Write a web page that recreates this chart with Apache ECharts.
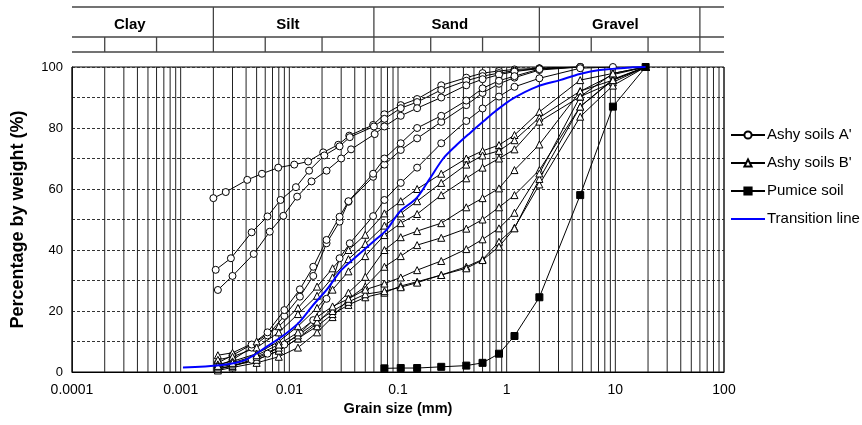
<!DOCTYPE html>
<html><head><meta charset="utf-8">
<script src="https://cdn.jsdelivr.net/npm/echarts@6/dist/echarts.min.js"></script>
<style>html,body{margin:0;padding:0;background:#fff}#c{width:862px;height:425px}</style>
</head><body><div id="c"></div>
<script>
// ---------- data ----------
const xTickLabels = ['0.0001','0.001','0.01','0.1','1','10','100'];
const sieve = [0.075,0.106,0.15,0.25,0.425,0.6,0.85,1.18,2,4.75,9.5,19];

// Ashy soils A' (hydrometer sizes, then sieve part)
const a1Size = [0.002,0.0026,0.0041,0.0056,0.0079,0.0111,0.0149,0.0205,0.0282,0.0356,0.059];
const a1Pct  = [57,59,63,65,67,68,69,72,74.5,77.5,81, 84.5,87.5,89.5,94,96.5,98,98.7,99.2,99.6,100];
const a2Size = [0.0021,0.0029,0.0045,0.0063,0.0083,0.0115,0.0152,0.021,0.029,0.036,0.06];
const a2Pct  = [33.5,37.3,45.8,51,56.4,60.6,66,71,74,77,80.5, 83,86.5,88.5,92.5,95.5,97,98,98.8,99.5,100];
const a3Size = [0.0022,0.003,0.0047,0.0066,0.0088,0.0118,0.016,0.022,0.03,0.037,0.061];
const a3Pct  = [26.9,31.5,38.7,46,51.2,57.5,62.5,66,70,73,78, 80.5,84,86.5,90,94,96,97.5,98.5,99.5,100];
const a4Size = [0.0022,0.003,0.0045,0.0063,0.009,0.0125,0.0166,0.022,0.029,0.035,0.059];
const a4Pct  = [2,4,8,12,18.4,24.7,31.5,42.2,49.3,55.8,64, 68,72.8,76.6,82,87.5,91.5,94.5,96.5,99,100];
const a5Size = [0.0022,0.003,0.0045,0.0063,0.009,0.0125,0.0166,0.022,0.029,0.035,0.059];
const a5Pct  = [3,5.5,9,13,20.3,27.1,34.5,43.3,50.9,56,65, 70,75,80,84,89,93,95.5,97,99.3,100];
const a6Size = [0.0022,0.003,0.0045,0.0063,0.009,0.0125,0.0166,0.022,0.029,0.036,0.059];
const a6Pct  = [1,2,4,6,9,12.7,17,24,37.3,42.2,51.1, 56.4,62,67,75,82.3,86.4,90.3,93.5,96.3,99.6,100];

// Ashy soils B' (hydrometer sizes shared, then sieve part)
const bSize = [0.0022,0.003,0.005,0.008,0.012,0.018,0.025,0.035,0.05];
const b1Pct = [5.5,6.3,10,15,21,28,34,40,45, 52,56,60,65,70,72.5,74.4,77.7,85.3,95.7,97.9,100];
const b2Pct = [4,5,8,13,19,25,31,37,42, 48,52,56,62,68,71,72.5,76,83.4,92.1,95.7,100];
const b3Pct = [2.5,3.5,6,10,15,21,27,33,38, 44.9,48.8,51.8,58,63.5,67,70,73,82.1,90.3,95,100];
const b4Pct = [1,2,4,7,11,16,21,26,31.2, 40,44.2,46.2,48.8,54,57,60.2,66.2,74.6,92,97.5,100];
const b5Pct = [0.5,1.5,3,5,8,13,18,24,28, 34.5,38,41.6,44,47,50,54,58,66.2,87,96,100];
const b6Pct = [1,2,4,7,11,15,19,22,24.5, 26,28.2,29.6,31.8,34.5,36.9,42.7,47.3,61.5,83.7,93.9,100];
const b7Pct = [1.5,2.5,5,8,12,16.5,20,23,25.5, 26.5,27.8,29.3,31.8,34,36.7,41.1,47.1,63.3,87,95.7,100];
const b8Pct = [2,3,5.5,9,13,18,21.5,24,27, 29,31,33.4,36.4,40.3,43.5,47.1,52.2,65.1,90.3,97.9,100];

// Pumice soil (sieve sizes)
const pumicePct = [1.2,1.3,1.3,1.7,2.1,3,6,11.8,24.5,58,87,100];

// Transition line
const transSize = [0.00105,0.0023,0.0039,0.0062,0.0094,0.0125,0.0166,0.022,0.0292,0.0337,0.0591,0.0785,0.104,0.148,0.197,0.261,0.346,0.458,0.608,0.807,1.148,1.88,3.09,4.71,7.2,14.5,19];
const transPct  = [1.5,2.2,3.9,8.3,12.7,16.5,22,26.9,32.9,35.1,42.7,46.6,52.6,57,63.5,70,74.4,78.3,82.1,85.8,89.7,93.5,95.7,97.7,99,99.9,100];

// Header classification
const classNames = ['Clay','Silt','Sand','Gravel'];
const classLabelAt = [0.00034,0.0097,0.30,10];
const classMajor = [0.002,0.06,2,60];
const classMinor = [0.0002,0.0006,0.006,0.02,0.2,0.6,6,20];

// ---------- build ----------
const FONT = '"Liberation Sans", Arial, sans-serif';
const nameA = "Ashy soils A'", nameB = "Ashy soils B'", nameP = 'Pumice soil', nameT = 'Transition line';

function pairs(sizes, pcts){ const xs = sizes.concat(sieve); const out=[]; for(let i=0;i<pcts.length;i++) out.push([xs[i], pcts[i]]); return out; }

const gridVals = [];
for (let k=-4;k<=1;k++) for (let m=1;m<=9;m++) gridVals.push(+(m*Math.pow(10,k)).toPrecision(3));
gridVals.push(100);

const series = [];
series.push({
  type:'custom', xAxisIndex:0, yAxisIndex:0, silent:true, z:1,
  data: gridVals.map(v=>[v,0]), encode:{x:0,y:1},
  renderItem:(p,api)=>{ const v=api.value(0); const a=api.coord([v,0]), b=api.coord([v,100]);
    return {type:'line', shape:{x1:a[0],y1:a[1],x2:b[0],y2:b[1]}, style:{stroke:'#222', lineWidth:1}}; }
});

function lineSeries(name, data, symbol, size, fill){
  return {type:'line', name, data, symbol, symbolSize:size, showSymbol:true, z:3,
    lineStyle:{color:'#000', width:1}, itemStyle:{color:fill, borderColor:'#000', borderWidth:1},
    emphasis:{disabled:true}, animation:false};
}
[[a1Size,a1Pct],[a2Size,a2Pct],[a3Size,a3Pct],[a4Size,a4Pct],[a5Size,a5Pct],[a6Size,a6Pct]].forEach(([s,p])=>{
  series.push(lineSeries(nameA, pairs(s,p), 'circle', 7, '#fff'));
});
[b1Pct,b2Pct,b3Pct,b4Pct,b5Pct,b6Pct,b7Pct,b8Pct].forEach(p=>{
  series.push(lineSeries(nameB, pairs(bSize,p), 'triangle', 7, '#fff'));
});
series.push(lineSeries(nameP, sieve.map((s,i)=>[s,pumicePct[i]]), 'rect', 7, '#000'));
series.push({type:'line', name:nameT, data: transSize.map((s,i)=>[s,transPct[i]]), smooth:0.3, showSymbol:false, symbol:'none', z:4,
  lineStyle:{color:'#0000ff', width:2}, itemStyle:{color:'#0000ff'}, emphasis:{disabled:true}});

// header table
const hdr = [];
hdr.push([0.0001,0,100,0],[0.0001,1,100,1],[0.0001,3,100,3]);
classMajor.forEach(v=>hdr.push([v,0,v,3]));
classMinor.forEach(v=>hdr.push([v,0,v,1]));
series.push({type:'custom', xAxisIndex:1, yAxisIndex:1, silent:true,
  data: hdr, encode:{x:[0,2], y:[1,3]},
  renderItem:(p,api)=>{ const a=api.coord([api.value(0),api.value(1)]), b=api.coord([api.value(2),api.value(3)]);
    return {type:'line', shape:{x1:a[0],y1:a[1],x2:b[0],y2:b[1]}, style:{stroke:'#444', lineWidth:1.3}}; }
});
series.push({type:'custom', xAxisIndex:1, yAxisIndex:1, silent:true,
  data: classNames.map((n,i)=>[classLabelAt[i],1.8]), encode:{x:0,y:1},
  renderItem:(p,api)=>{ const a=api.coord([api.value(0),api.value(1)]);
    return {type:'text', x:a[0], y:a[1], style:{text:classNames[p.dataIndex], fill:'#000', font:'bold 15px '+FONT, align:'center', verticalAlign:'middle'}}; }
});

const option = {
  animation:false,
  textStyle:{fontFamily:FONT},
  grid:[
    {left:72,right:138,top:67,bottom:53, show:true, borderColor:'#000', borderWidth:1, backgroundColor:'transparent'},
    {left:72,right:138,top:7,height:45, show:false}
  ],
  xAxis:[
    {type:'log', logBase:10, min:0.0001, max:100, gridIndex:0,
     name:'Grain size (mm)', nameLocation:'middle', nameGap:29,
     nameTextStyle:{fontSize:14.5, fontWeight:'bold', color:'#000', fontFamily:FONT},
     axisLine:{show:true, lineStyle:{color:'#000', width:1}}, axisTick:{show:false},
     splitLine:{show:false},
     axisLabel:{color:'#000', fontSize:14, fontFamily:FONT, margin:11, formatter:(v)=>{ const e=Math.round(Math.log10(v)); return xTickLabels[e+4]; }}},
    {type:'log', logBase:10, min:0.0001, max:100, gridIndex:1, show:false}
  ],
  yAxis:[
    {type:'value', min:0, max:100, interval:10, gridIndex:0,
     name:'Percentage by weight (%)', nameLocation:'middle', nameGap:45, nameRotate:90,
     nameTextStyle:{fontSize:18, fontWeight:'bold', color:'#000', fontFamily:FONT},
     axisLine:{show:true, lineStyle:{color:'#000'}}, axisTick:{show:false},
     axisLabel:{color:'#000', fontSize:13, fontFamily:FONT, margin:9, formatter:(v)=> (v%20===0? String(v):'')},
     splitLine:{show:true, lineStyle:{color:'#333', type:[3,2], width:1}}},
    {type:'value', min:0, max:3, gridIndex:1, show:false}
  ],
  legend:{
    data:[nameA,nameB,nameP,{name:nameT, itemStyle:{opacity:0}}], orient:'vertical', left:730, top:127, padding:0,
    itemWidth:34, itemHeight:9, itemGap:12,
    textStyle:{fontSize:15, color:'#000', fontFamily:FONT, padding:[0,0,0,-3], lineHeight:16}
  },
  series
};
const chart = echarts.init(document.getElementById('c'), null, {renderer:'canvas'});
chart.setOption(option);
</script></body></html>
